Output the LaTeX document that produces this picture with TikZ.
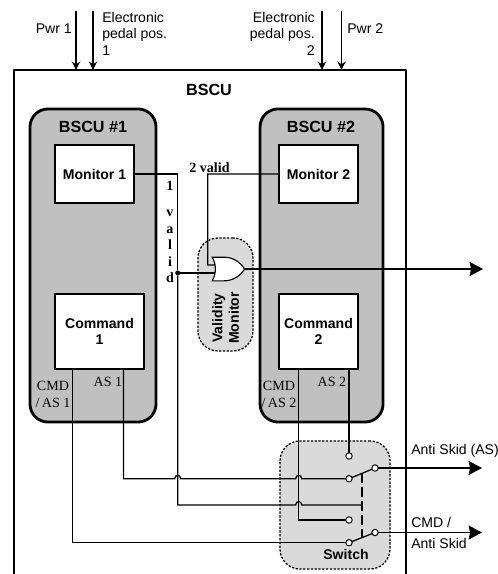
\documentclass[tikz,border=0pt]{standalone}
\usepackage{fontspec}
\setmainfont{Liberation Serif}
\setsansfont{Liberation Sans}
\usepackage{xcolor}
\usetikzlibrary{arrows.meta, positioning, shapes.gates.logic.US}
\definecolor{unitgray}{HTML}{C0C0C0}
\definecolor{zonegray}{HTML}{DADADA}
\tikzstyle{process} = [rectangle, draw=black, line width=0.9pt, fill=white, outer sep=0pt, align=center, font=\sffamily\bfseries\fontsize{10}{11.7}\selectfont]
\tikzstyle{unit} = [rectangle, rounded corners=0.45cm, draw=black, line width=2pt, fill=unitgray, outer sep=0pt]
\tikzstyle{zone} = [rectangle, rounded corners=0.5cm, draw=black, line width=0.9pt, dash pattern=on 1.6pt off 1.1pt, fill=zonegray, outer sep=0pt]
\tikzstyle{wire} = [line width=0.9pt]
\tikzstyle{arrow} = [line width=0.9pt, -{Stealth[length=6pt, width=6pt]}]
\tikzstyle{bigarrow} = [line width=0.9pt, -{Stealth[length=9.5pt, width=10pt, inset=1pt]}]
\tikzstyle{contact} = [circle, draw=black, line width=0.7pt, fill=white, minimum size=0.16cm, inner sep=0pt, outer sep=0pt]
\tikzstyle{sans} = [inner sep=0pt, align=left, font=\sffamily\fontsize{10}{11.7}\selectfont]
\tikzstyle{sansb} = [inner sep=0pt, align=center, font=\sffamily\bfseries\fontsize{10}{11.7}\selectfont]
\tikzstyle{serif} = [inner sep=0pt, font=\rmfamily\fontsize{10}{11.7}\selectfont]
\tikzstyle{serifb} = [inner sep=0pt, align=center, font=\rmfamily\bfseries\fontsize{10}{11.7}\selectfont]
\newcommand{\hopover}{.. controls +(0,-4.5) and +(0,-4.5) .. ++(6,0)}

\begin{document}
\begin{tikzpicture}[x=0.025cm, y=-0.025cm]
  \useasboundingbox (0,0) rectangle (498,574);
  \node (bscu) [minimum width=9.8cm, minimum height=12.6cm, inner sep=0pt, outer sep=0pt] at (210,322) {};
  \draw[line width=2pt, line join=round] (bscu.south west) |- (bscu.north east) -- (bscu.south east);
  \node (bscutitle) [sansb, font=\sffamily\bfseries\fontsize{11.5}{13}\selectfont] at (209,90) {BSCU};
  % units
  \node (unitone) [unit, minimum width=3.15cm, minimum height=7.825cm] at (93,265.5) {};
  \node (unittwo) [unit, right=2.6cm of unitone, minimum width=3.075cm, minimum height=7.825cm] {};
  \node (unitonetitle) [sansb, font=\sffamily\bfseries\fontsize{11.5}{13}\selectfont] at (93,127) {BSCU \#1};
  \node (unittwotitle) [sansb, font=\sffamily\bfseries\fontsize{11.5}{13}\selectfont] at (321,127) {BSCU \#2};
  \node (monone) [process, below right=0.9cm and 0.625cm of unitone.north west, minimum width=1.975cm, minimum height=1.45cm] {Monitor 1};
  \node (montwo) [process, below right=0.9cm and 0.475cm of unittwo.north west, minimum width=1.975cm, minimum height=1.45cm] {Monitor 2};
  \node (cmdone) [process, below right=2.275cm and 0cm of monone.south west, minimum width=2.225cm, minimum height=1.875cm] {Command\\1};
  \node (cmdtwo) [process, below right=2.275cm and 0cm of montwo.south west, minimum width=1.975cm, minimum height=1.875cm] {Command\\2};
  % dashed zones
  \node (valzone) [zone, minimum width=1.375cm, minimum height=2.825cm] at (225.5,294.5) {};
  \node (swzone) [zone, minimum width=2.75cm, minimum height=3.2cm] at (335,505) {};
  \node (vallabel) [sansb, rotate=90] at (225.5,318) {Validity\\Monitor};
  \node (swlabel) [sansb] at (346,554.5) {Switch};
  % inputs
  \coordinate (pwra) at (76,11);
  \coordinate (peda) at (93,11);
  \coordinate (pedb) at (322,11);
  \coordinate (pwrb) at (341.5,11);
  \draw[arrow] (pwra) -- (pwra |- bscu.north);
  \draw[arrow] (peda) -- (peda |- bscu.north);
  \draw[arrow] (pedb) -- (pedb |- bscu.north);
  \draw[arrow] (pwrb) -- (pwrb |- bscu.north);
  \node (pwralabel) [sans, anchor=east] at (72,29) {Pwr 1};
  \node (pedalabel) [sans, anchor=north west] at (102,12) {Electronic\\pedal pos.\\1};
  \node (pedblabel) [sans, align=right, anchor=north east] at (315,12) {Electronic\\pedal pos.\\2};
  \node (pwrblabel) [sans, anchor=west] at (347,29) {Pwr 2};
  % gate
  \node (orgate) [or gate US, draw, fill=white, line width=0.8pt, logic gate inputs=nn, logic gate input sep=0.1cm, minimum width=0.5cm, minimum height=0.42cm, inner sep=0pt, outer sep=0pt] at (226,269) {};
  \coordinate (validone) at (177.7,505);
  \coordinate (validtwo) at (207.7,174);
  \coordinate (outgate) at (483,269);
  \node (dot) [circle, fill=black, minimum size=0.125cm, inner sep=0pt] at (validone |- orgate.input 2) {};
  \draw[wire] (monone.east) -| (dot);
  \draw[wire] (dot) -- (orgate.input 2);
  \draw[wire] (montwo.west) -- (validtwo) |- (orgate.input 1);
  \draw[bigarrow] (orgate.output) -- (outgate);
  \node (validonelabel) [serifb] at (170,232) {1\\[6.8pt]v\\a\\l\\i\\d};
  \node (validtwolabel) [serifb] at (209.5,168) {2 valid};
  % switch
  \node (astwo) [contact] at (349,456) {};
  \node (asone) [contact] at (349,478.7) {};
  \node (cmdastwo) [contact] at (349,520) {};
  \node (cmdasone) [contact] at (349,542.7) {};
  \node (asout) [contact] at (375,468) {};
  \node (cmdasout) [contact] at (375,532.5) {};
  \coordinate (asonetop) at (123.5,368);
  \coordinate (cmdonetop) at (72.5,368);
  \coordinate (cmdtwotop) at (298.7,368);
  \coordinate (astwotop) at (349,368);
  \coordinate (hopa) at (174.7,478.7);
  \coordinate (hopb) at (295.7,478.7);
  \coordinate (hopc) at (295.7,505);
  \coordinate (leverlink) at (362,505);
  \coordinate (leverup) at (362,473);
  \coordinate (leverdown) at (362,537);
  \coordinate (astip) at (482,468);
  \coordinate (cmdastip) at (482,532.5);
  \draw[wire] (dot) -- (validone) -- (validone -| hopc) -- (hopc) \hopover -- (leverlink);
  \draw[wire] (asonetop) |- (hopa) \hopover -- (hopb) \hopover -- (asone);
  \draw[wire] (cmdonetop) |- (cmdasone);
  \draw[wire] (cmdtwotop) |- (cmdastwo);
  \draw[wire] (astwotop) -- (astwo);
  \draw[wire] (asone) -- (asout);
  \draw[wire] (cmdasone) -- (cmdasout);
  \draw[wire, dash pattern=on 7pt off 3pt] (leverup) -- (leverdown);
  \draw[bigarrow] (asout) -- (astip);
  \draw[bigarrow] (cmdasout) -- (cmdastip);
  % wire labels
  \node (cmdonelabel) [serif, align=center] at (53,394.5) {CMD\\/\,AS 1};
  \node (asonelabel) [serif] at (108,381.5) {AS 1};
  \node (cmdtwolabel) [serif, align=center] at (279,394.5) {CMD\\/\,AS 2};
  \node (astwolabel) [serif] at (332,381.5) {AS 2};
  \node (aslabel) [sans, anchor=west] at (411,451) {Anti Skid (AS)};
  \node (cmdaslabel) [sans, anchor=west] at (411,533) {CMD /\\[3.5pt]Anti Skid};
\end{tikzpicture}
\end{document}
